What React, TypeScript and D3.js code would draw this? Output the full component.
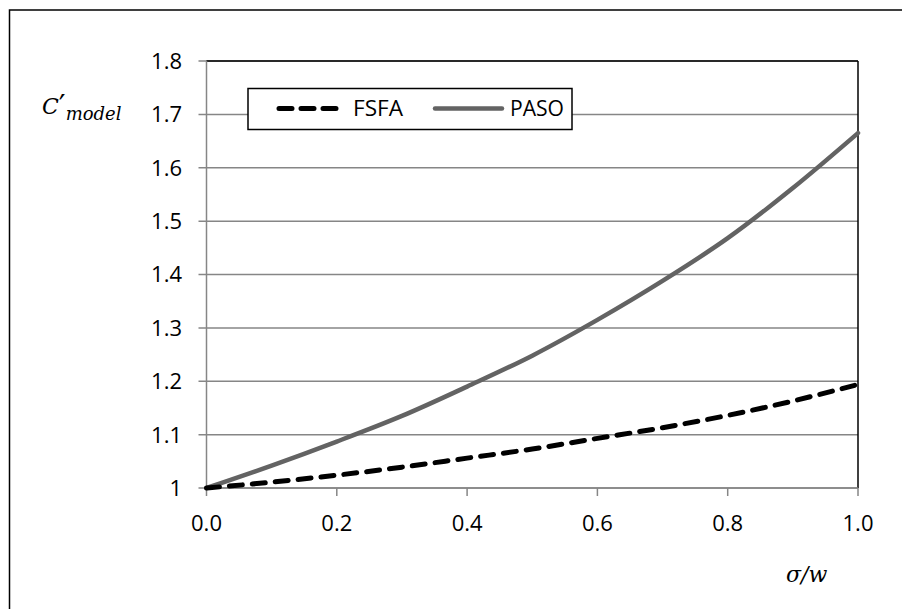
import React from "react";
import * as d3 from "d3";

const xValues = [0, 0.1, 0.2, 0.3, 0.4, 0.5, 0.6, 0.7, 0.8, 0.9, 1.0];
const fsfaValues = [1, 1.011, 1.024, 1.039, 1.056, 1.073, 1.093, 1.113, 1.136, 1.163, 1.194];
const pasoValues = [1, 1.042, 1.087, 1.135, 1.19, 1.248, 1.315, 1.388, 1.468, 1.562, 1.665];
const xTicks = [0, 0.2, 0.4, 0.6, 0.8, 1.0];
const yTicks = [1, 1.1, 1.2, 1.3, 1.4, 1.5, 1.6, 1.7, 1.8];
const seriesNames = ["FSFA", "PASO"];

const W = 902;
const H = 609;
const FONT = "'Open Sans', 'Noto Sans', sans-serif";
const FS = 22;

export default function App() {
  const x = d3.scaleLinear().domain([0, 1]).range([206.5, 858]);
  const y = d3.scaleLinear().domain([1, 1.8]).range([488, 61]);

  const line = d3
    .line<[number, number]>()
    .x((d) => x(d[0]))
    .y((d) => y(d[1]))
    .curve(d3.curveMonotoneX);

  const fsfa = xValues.map((v, i) => [v, fsfaValues[i]] as [number, number]);
  const paso = xValues.map((v, i) => [v, pasoValues[i]] as [number, number]);

  const gridColor = "#868686";

  return (
    <svg
      width={W}
      height={H}
      style={{ position: "absolute", left: 0, top: 0, background: "#fff" }}
    >
      <rect x={0} y={0} width={W} height={H} fill="#fff" />
      {/* outer border */}
      <rect x={9.5} y={10} width={W + 10} height={H + 10} fill="none" stroke="#000" strokeWidth={1.5} />

      {/* horizontal gridlines */}
      {yTicks.map((t) => (
        <line
          key={"g" + t}
          x1={x(0) - 8}
          x2={x(1)}
          y1={y(t)}
          y2={y(t)}
          stroke={gridColor}
          strokeWidth={1.5}
        />
      ))}
      {/* plot border top & right */}
      <line x1={x(0)} x2={x(1)} y1={y(1.8)} y2={y(1.8)} stroke="#000" strokeWidth={1.5} />
      <line x1={x(1)} x2={x(1)} y1={y(1.8)} y2={y(1)} stroke="#000" strokeWidth={1.5} />
      {/* y axis */}
      <line x1={x(0)} x2={x(0)} y1={y(1.8)} y2={y(1)} stroke={gridColor} strokeWidth={1.5} />
      {/* x axis */}
      <line x1={x(0)} x2={x(1)} y1={y(1)} y2={y(1)} stroke={gridColor} strokeWidth={1.5} />
      {xTicks.map((t) => (
        <line
          key={"xt" + t}
          x1={x(t)}
          x2={x(t)}
          y1={y(1)}
          y2={y(1) + 8}
          stroke={gridColor}
          strokeWidth={1.5}
        />
      ))}

      {/* y tick labels */}
      {yTicks.map((t) => (
        <text
          key={"yl" + t}
          x={182}
          y={y(t)}
          dy="0.36em"
          textAnchor="end"
          fontFamily={FONT}
          fontSize={FS}
          fill="#000"
        >
          {t === 1 ? "1" : d3.format(".1f")(t)}
        </text>
      ))}
      {/* x tick labels */}
      {xTicks.map((t) => (
        <text
          key={"xl" + t}
          x={x(t)}
          y={523}
          dy="0.36em"
          textAnchor="middle"
          fontFamily={FONT}
          fontSize={FS}
          fill="#000"
        >
          {d3.format(".1f")(t)}
        </text>
      ))}

      {/* series */}
      <path d={line(paso) || ""} fill="none" stroke="#636363" strokeWidth={4.5} strokeLinecap="round" />
      <path
        d={line(fsfa) || ""}
        fill="none"
        stroke="#000"
        strokeWidth={5}
        strokeDasharray="13 10"
        strokeLinecap="round"
      />

      {/* legend */}
      <rect x={248} y={88.5} width={324} height={41} fill="#fff" stroke="#000" strokeWidth={1.5} />
      <line
        x1={279}
        x2={336}
        y1={108.5}
        y2={108.5}
        stroke="#000"
        strokeWidth={5}
        strokeDasharray="13 9"
        strokeLinecap="round"
      />
      <text x={353} y={108.5} dy="0.36em" fontFamily={FONT} fontSize={FS} fill="#000" textLength={50} lengthAdjust="spacingAndGlyphs">
        {seriesNames[0]}
      </text>
      <line x1={435} x2={502} y1={108.5} y2={108.5} stroke="#636363" strokeWidth={4.5} strokeLinecap="round" />
      <text x={510} y={108.5} dy="0.36em" fontFamily={FONT} fontSize={FS} fill="#000" textLength={54} lengthAdjust="spacingAndGlyphs">
        {seriesNames[1]}
      </text>

      {/* y axis title */}
      <text x={42} y={114} fontFamily="'DejaVu Serif', serif" fontStyle="italic" fontSize={22} fill="#000">
        C<tspan fontSize={30} fontFamily="'DejaVu Sans', sans-serif" fontStyle="normal" dy={2}>′</tspan>
        <tspan fontSize={18} dy={4}>model</tspan>
      </text>

      {/* x axis title */}
      <text x={786} y={582} fontFamily="'DejaVu Serif', serif" fontStyle="italic" fontSize={22} fill="#000">
        σ/w
      </text>
    </svg>
  );
}
